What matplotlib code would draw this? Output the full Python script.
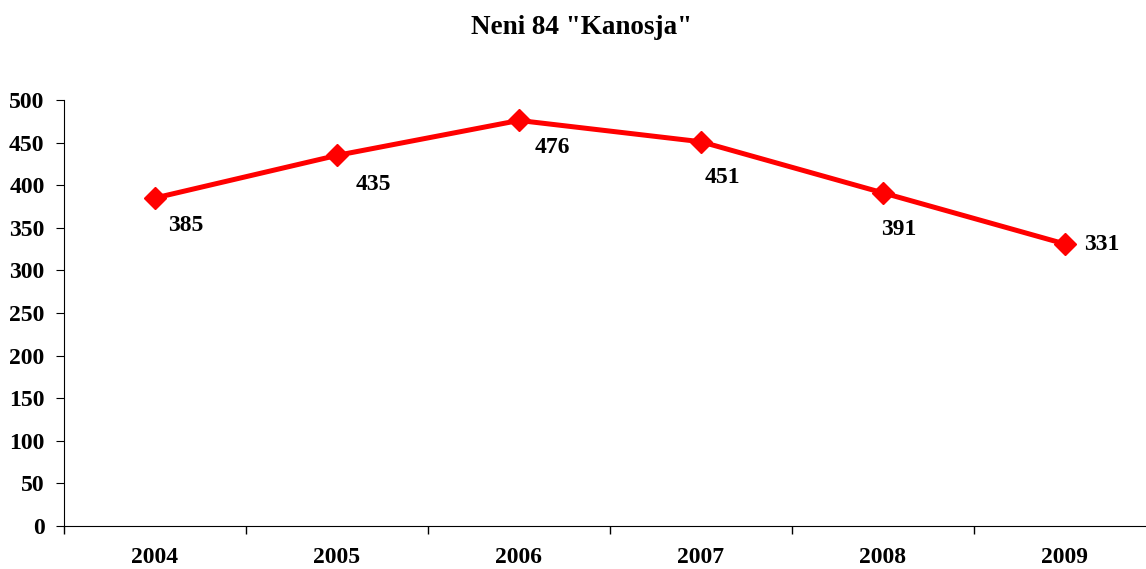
import matplotlib.pyplot as plt

years = ["2004", "2005", "2006", "2007", "2008", "2009"]
values = [385, 435, 476, 451, 391, 331]
# label offsets in pixels (dx, dy)
offsets = [(31, -28), (36, -29), (33, -27), (21, -36), (16, -37), (37, -1)]

plt.rcParams['font.family'] = ['Liberation Serif', 'DejaVu Serif']
plt.rcParams['font.weight'] = 'bold'

fig = plt.figure(figsize=(11.46, 5.69), dpi=100)
ax = fig.add_axes([64/1146, 43/569, 1092/1146, 426/569])

x = list(range(len(years)))
ax.plot(x, values, color='#ff0000', linewidth=3.6, marker='D', markersize=11, clip_on=False)
for xi, v, (dx, dy) in zip(x, values, offsets):
    ax.annotate(str(v), (xi, v), xytext=(dx, dy), textcoords='offset pixels',
                ha='center', va='center', fontsize=17, fontweight='bold')

ax.set_xlim(-0.5, 5.5)
ax.set_ylim(0, 500)
ax.set_yticks(range(0, 501, 50))
ax.set_xticks([i + 0.5 for i in range(-1, 6)])
ax.set_xticklabels([])
ax.set_xticks(x, minor=True)
ax.set_xticklabels(years, minor=True, fontsize=17, fontweight='bold')
ax.tick_params(axis='x', which='minor', length=0, pad=15)
ax.tick_params(axis='x', which='major', length=6, direction='out', width=1)
ax.tick_params(axis='y', length=6, direction='out', labelsize=17, pad=8)
for lbl in ax.get_yticklabels():
    lbl.set_fontweight('bold')

ax.spines['top'].set_visible(False)
ax.spines['right'].set_visible(False)

fig.text(582/1146, 1 - 28/569, 'Neni 84 "Kanosja"', ha='center', va='center',
         fontsize=19.5, fontweight='bold')

fig.savefig('out.png', dpi=100)
